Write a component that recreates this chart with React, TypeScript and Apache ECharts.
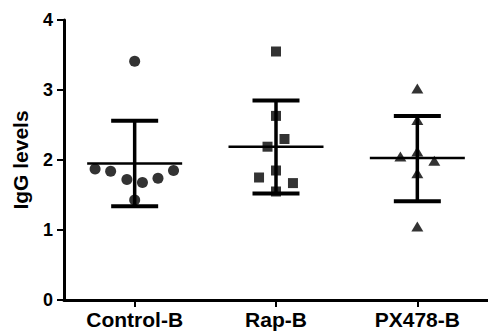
import React, { useEffect, useRef } from "react";
import * as echarts from "echarts";

const categories = ["Control-B", "Rap-B", "PX478-B"];

const controlValues = [3.41, 1.87, 1.84, 1.72, 1.68, 1.74, 1.85, 1.43];
const controlJitter = [0, -0.28, -0.17, -0.055, 0.055, 0.165, 0.275, 0];

const rapValues = [3.55, 2.63, 2.3, 2.19, 1.85, 1.75, 1.67, 1.55];
const rapJitter = [0, 0, 0.06, -0.06, 0, -0.12, 0.12, 0];

const pxValues = [3.02, 2.57, 2.12, 2.05, 1.99, 1.81, 1.05];
const pxJitter = [0, 0, 0, -0.12, 0.12, 0, 0];

const means = [1.95, 2.19, 2.03];
const upperSD = [2.56, 2.85, 2.63];
const lowerSD = [1.34, 1.52, 1.41];

const yTicks = [0, 1, 2, 3, 4];

const FONT = "'Liberation Sans', Arial, sans-serif";

function points(groupIndex: number, values: number[], jitter: number[]) {
  return values.map((v, i) => [groupIndex + jitter[i], v]);
}

export default function App() {
  const ref = useRef<HTMLDivElement>(null);
  useEffect(() => {
    if (!ref.current) return;
    const chart = echarts.init(ref.current, null, { renderer: "svg" });
    const errData = categories.map((_, i) => [i, means[i], upperSD[i], lowerSD[i]]);
    chart.setOption({
      animation: false,
      backgroundColor: "#ffffff",
      grid: { left: 64, top: 20, width: 426, bottom: 35, containLabel: false },
      xAxis: [
        {
          type: "category",
          data: categories,
          boundaryGap: true,
          axisLine: { show: true, onZero: false, lineStyle: { color: "#000", width: 3 } },
          axisTick: { show: true, alignWithLabel: true, length: 7, lineStyle: { color: "#000", width: 2 } },
          axisLabel: { color: "#000", fontFamily: FONT, fontWeight: "bold", fontSize: 21, margin: 9 },
          splitLine: { show: false },
        },
        {
          type: "value",
          min: -0.5,
          max: 2.5,
          show: false,
          axisLine: { onZero: false },
          splitLine: { show: false },
        },
      ],
      yAxis: {
        type: "value",
        min: yTicks[0],
        max: yTicks[yTicks.length - 1],
        interval: 1,
        name: "IgG levels",
        nameLocation: "middle",
        nameRotate: 90,
        nameGap: 33,
        nameTextStyle: { color: "#000", fontFamily: FONT, fontWeight: "bold", fontSize: 21 },
        axisLine: { show: true, onZero: false, lineStyle: { color: "#000", width: 3 } },
        axisTick: { show: true, length: 7, lineStyle: { color: "#000", width: 2 } },
        axisLabel: { color: "#000", fontFamily: FONT, fontWeight: "bold", fontSize: 18, margin: 11 },
        splitLine: { show: false },
      },
      series: [
        {
          type: "custom",
          xAxisIndex: 1,
          data: errData,
          z: 3,
          renderItem: (params: any, api: any) => {
            const x = api.value(0);
            const c = api.coord([x, api.value(1)]);
            const u = api.coord([x, api.value(2)]);
            const l = api.coord([x, api.value(3)]);
            const capHalf = 23.5;
            const meanHalf = 47.5;
            return {
              type: "group",
              children: [
                { type: "line", shape: { x1: c[0], y1: u[1], x2: c[0], y2: l[1] }, style: { stroke: "#000", lineWidth: 3.5 } },
                { type: "line", shape: { x1: c[0] - capHalf, y1: u[1], x2: c[0] + capHalf, y2: u[1] }, style: { stroke: "#000", lineWidth: 4 } },
                { type: "line", shape: { x1: c[0] - capHalf, y1: l[1], x2: c[0] + capHalf, y2: l[1] }, style: { stroke: "#000", lineWidth: 4 } },
                { type: "line", shape: { x1: c[0] - meanHalf, y1: c[1], x2: c[0] + meanHalf, y2: c[1] }, style: { stroke: "#000", lineWidth: 2.5 } },
              ],
            };
          },
        },
        {
          type: "scatter",
          xAxisIndex: 1,
          symbol: "circle",
          symbolSize: 11,
          itemStyle: { color: "#000" },
          data: points(0, controlValues, controlJitter),
          z: 4,
        },
        {
          type: "scatter",
          xAxisIndex: 1,
          symbol: "rect",
          symbolSize: 10,
          itemStyle: { color: "#000" },
          data: points(1, rapValues, rapJitter),
          z: 4,
        },
        {
          type: "scatter",
          xAxisIndex: 1,
          symbol: "triangle",
          symbolSize: [12, 10],
          itemStyle: { color: "#000" },
          data: points(2, pxValues, pxJitter),
          z: 4,
        },
      ],
    });
    return () => chart.dispose();
  }, []);
  return (
    <div
      ref={ref}
      style={{ position: "fixed", left: 0, top: 0, width: 488, height: 335, background: "#fff" }}
    />
  );
}
